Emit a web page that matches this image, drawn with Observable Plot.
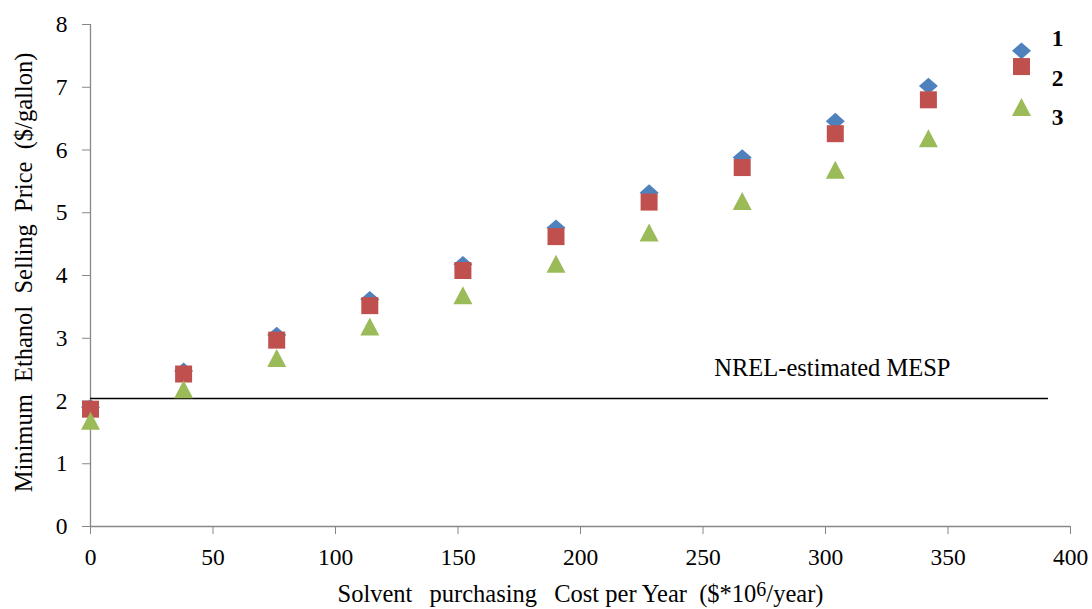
<!DOCTYPE html>
<html>
<head>
<meta charset="utf-8">
<script src="https://cdn.jsdelivr.net/npm/d3@7"></script>
<script src="https://cdn.jsdelivr.net/npm/@observablehq/plot@0.6"></script>
<style>
  html, body { margin: 0; padding: 0; background: #fff; }
</style>
</head>
<body>
<div id="chart"></div>
<script>
// ---- data ----
const solventCost = [0, 38, 76, 114, 152, 190, 228, 266, 304, 342, 380];
const series1 = [1.90, 2.48, 3.05, 3.62, 4.18, 4.76, 5.32, 5.88, 6.46, 7.02, 7.58];
const series2 = [1.87, 2.43, 2.97, 3.52, 4.08, 4.62, 5.17, 5.72, 6.26, 6.80, 7.33];
const series3 = [1.67, 2.17, 2.67, 3.17, 3.67, 4.17, 4.67, 5.17, 5.67, 6.17, 6.67];
const seriesNames = ["1", "2", "3"];
const nrelMESP = 2.04;
const nrelExtent = [0, 391];
const nrelLabel = "NREL-estimated MESP";
const xTicks = [0, 50, 100, 150, 200, 250, 300, 350, 400];
const yTicks = [0, 1, 2, 3, 4, 5, 6, 7, 8];
const xTitleParts = ["Solvent\u00a0\u2009 purchasing\u00a0\u2009 Cost per Year\u00a0 ($*10", "6", "/year)"];
const yTitle = "Minimum\u00a0 Ethanol\u00a0 Selling\u00a0 Price\u00a0 ($/gallon)";

const rows = (ys) => solventCost.map((x, i) => ({x, y: ys[i]}));

// custom symbols
const diamond = {draw(ctx) { const w = 9.5, h = 8.3; ctx.moveTo(0, -h); ctx.lineTo(w, 0); ctx.lineTo(0, h); ctx.lineTo(-w, 0); ctx.closePath(); }};
const square = {draw(ctx) { const s = 8.5; ctx.rect(-s, -s, 2 * s, 2 * s); }};
const triangle = {draw(ctx) { const w = 9.5, h = 9; ctx.moveTo(0, -h - 1); ctx.lineTo(w, h - 1); ctx.lineTo(-w, h - 1); ctx.closePath(); }};

const gray = "#878787";
const labelOffsets = [13.5, 53.5, 92.5];

const chart = Plot.plot({
  width: 1092,
  height: 609,
  marginLeft: 90,
  marginRight: 22,
  marginTop: 24,
  marginBottom: 83,
  style: {fontFamily: "'Liberation Serif', 'Times New Roman', serif", fontSize: "23.5px", color: "#000", background: "#fff"},
  x: {domain: [0, 400]},
  y: {domain: [0, 8]},
  marks: [
    Plot.axisX({ticks: xTicks, tickSize: 8, tickPadding: 14, stroke: gray, fill: "#000", label: null, fontSize: 23.5}),
    Plot.axisY({ticks: yTicks, tickSize: 8, tickPadding: 15, stroke: gray, fill: "#000", label: null, fontSize: 23.5}),
    Plot.ruleX([0], {stroke: gray, strokeWidth: 1.3}),
    Plot.ruleY([0], {stroke: gray, strokeWidth: 1.3}),
    Plot.ruleY([nrelMESP], {x1: nrelExtent[0], x2: nrelExtent[1], stroke: "#000", strokeWidth: 1.5}),
    Plot.text([nrelLabel], {x: nrelExtent[1], y: nrelMESP, text: d => d, textAnchor: "end", dx: -98, dy: -30.5, fontSize: 24.5, fill: "#000"}),
    Plot.dot(rows(series1), {x: "x", y: "y", symbol: diamond, fill: "#4F81BD", stroke: "none"}),
    Plot.dot(rows(series2), {x: "x", y: "y", symbol: square, fill: "#C0504D", stroke: "none"}),
    Plot.dot(rows(series3), {x: "x", y: "y", symbol: triangle, fill: "#9BBB59", stroke: "none"}),
    ...seriesNames.map((name, i) => Plot.text([name], {frameAnchor: "top-right", text: d => d, textAnchor: "end", lineAnchor: "middle", dx: -7, dy: labelOffsets[i], fontWeight: "bold", fontSize: 23.5, fill: "#000"})),
    Plot.text([yTitle], {frameAnchor: "left", text: d => d, textAnchor: "middle", lineAnchor: "middle", rotate: -90, dx: -66, dy: -3, fontSize: 24.5, fill: "#000"}),
    Plot.text([xTitleParts.join("")], {frameAnchor: "bottom", text: d => d, textAnchor: "middle", lineAnchor: "middle", dy: 68, fontSize: 24.5, fill: "#000"})
  ]
});
document.getElementById("chart").appendChild(chart);

// render the exponent as a raised digit
const full = xTitleParts.join("");
for (const t of chart.querySelectorAll("text")) {
  if (t.textContent === full) {
    t.textContent = "";
    const ns = "http://www.w3.org/2000/svg";
    const a = document.createElementNS(ns, "tspan"); a.textContent = xTitleParts[0];
    const b = document.createElementNS(ns, "tspan"); b.textContent = xTitleParts[1];
    b.setAttribute("baseline-shift", "30%"); b.setAttribute("font-size", "20");
    const c = document.createElementNS(ns, "tspan"); c.textContent = xTitleParts[2];
    t.append(a, b, c);
  }
}
</script>
</body>
</html>
